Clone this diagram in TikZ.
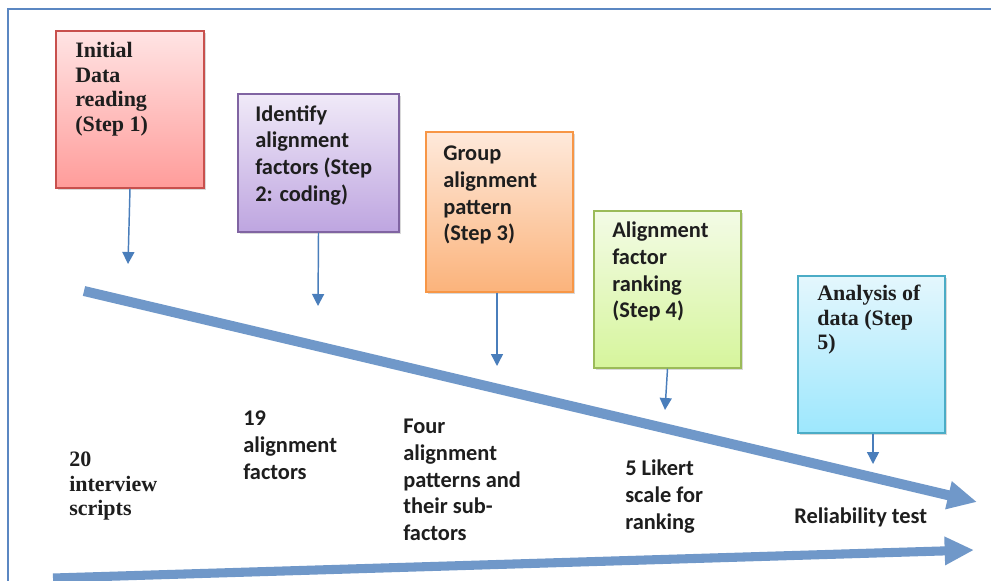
\documentclass[tikz,border=0pt]{standalone}
\usepackage{fontspec}
\setmainfont{Liberation Serif}
\newfontfamily\calfont{Carlito}
\usetikzlibrary{arrows.meta,shadows,calc}
\definecolor{frameblue}{HTML}{5B87C2}
\definecolor{thinblue}{HTML}{4A7EBB}
\definecolor{thickblue}{HTML}{7098C9}
\definecolor{txt}{HTML}{1E1E1E}
\definecolor{rTop}{HTML}{FFE4E4}\definecolor{rBot}{HTML}{FF9C9A}\definecolor{rBor}{HTML}{C8504D}
\definecolor{pTop}{HTML}{F0EAF8}\definecolor{pBot}{HTML}{BEA5E0}\definecolor{pBor}{HTML}{8064A2}
\definecolor{oTop}{HTML}{FEE9DB}\definecolor{oBot}{HTML}{FBB37B}\definecolor{oBor}{HTML}{F79646}
\definecolor{gTop}{HTML}{F3FBE6}\definecolor{gBot}{HTML}{D6F59C}\definecolor{gBor}{HTML}{9BBB59}
\definecolor{cTop}{HTML}{E4F7FD}\definecolor{cBot}{HTML}{9DE7FD}\definecolor{cBor}{HTML}{4BACC6}
\begin{document}
\begin{tikzpicture}[x=0.75pt,y=-0.75pt,
  stepbox/.style={draw, line width=1.1pt, inner sep=0pt, minimum width=110.25pt, minimum height=117.75pt,
    drop shadow={shadow xshift=1.5pt, shadow yshift=-1.5pt, opacity=0.15, fill=black}},
  sertext/.style={anchor=north west, inner sep=0pt, align=left, text=txt,
    font=\fontsize{16.5}{18.4}\selectfont\bfseries},
  caltext/.style={anchor=north west, inner sep=0pt, align=left, text=txt,
    font=\calfont\fontsize{16.8}{20}\selectfont\bfseries},
  thinarrow/.style={draw=thinblue, line width=1.1pt, -{Triangle[length=9pt,width=9pt]}},
  thickarrow/.style={draw=thickblue, -{Triangle[length=22pt,width=20pt]}}
]
\useasboundingbox (0,0) rectangle (991,581);
\fill[white] (0,0) rectangle (991,581);
% frame
\coordinate (ftl) at (8,9);
\coordinate (ftr) at (991,9);
\coordinate (fbl) at (8,581);
\draw[frameblue, line width=1.2pt] (fbl) -- (ftl) -- (ftr);

% step boxes
\node[stepbox, draw=rBor, top color=rTop, bottom color=rBot, minimum width=111pt] (s1) at (130,109.5) {};
\node[stepbox, draw=pBor, top color=pTop, bottom color=pBot, minimum width=120.75pt, minimum height=103.5pt] (s2) at (318.5,163) {};
\node[stepbox, draw=oBor, top color=oTop, bottom color=oBot, minimum height=120pt] (s3) at (499.5,212) {};
\node[stepbox, draw=gBor, top color=gTop, bottom color=gBot] (s4) at (667.5,289.5) {};
\node[stepbox, draw=cBor, top color=cTop, bottom color=cBot] (s5) at (871.5,354.5) {};

% box texts
\node[sertext] (t1) at (75,42) {Initial\\Data\\reading\\(Step 1)};
\node[caltext] (t2) at (255,105) {Identify\\alignment\\factors (Step\\2: coding)};
\node[caltext] (t3) at (443,146) {Group\\alignment\\pattern\\(Step 3)};
\node[caltext] (t4) at (612,222) {Alignment\\factor\\ranking\\(Step 4)};
\node[sertext] (t5) at (817,285) {Analysis of\\data (Step\\5)};

% thin arrows
\coordinate (e1) at (128,264);
\coordinate (e2) at (318,306);
\coordinate (e3) at (497,366);
\coordinate (e4) at (665,410);
\coordinate (e5) at (873,464);
\draw[thinarrow] (s1.south) -- (e1);
\draw[thinarrow] (s2.south) -- (e2);
\draw[thinarrow] ($(s3.south)+(-2.5,0)$) -- (e3);
\draw[thinarrow] (s4.south) -- (e4);
\draw[thinarrow] ($(s5.south)+(1.5,0)$) -- (e5);

% thick arrows
\coordinate (a1s) at (84,291);
\coordinate (a1e) at (977,502);
\coordinate (a2s) at (53,578);
\coordinate (a2e) at (974,550);
\draw[thickarrow, line width=7.5pt] (a1s) -- (a1e);
\draw[thickarrow, line width=6.8pt] (a2s) -- (a2e);

% bottom labels
\node[sertext] (l1) at (69,452) {20\\interview\\scripts};
\node[caltext] (l2) at (243,411) {19\\alignment\\factors};
\node[caltext] (l3) at (403,419) {Four\\alignment\\patterns and\\their sub-\\factors};
\node[caltext] (l4) at (625,460) {5 Likert\\scale for\\ranking};
\node[caltext] (l5) at (794,508) {Reliability test};
\end{tikzpicture}
\end{document}
